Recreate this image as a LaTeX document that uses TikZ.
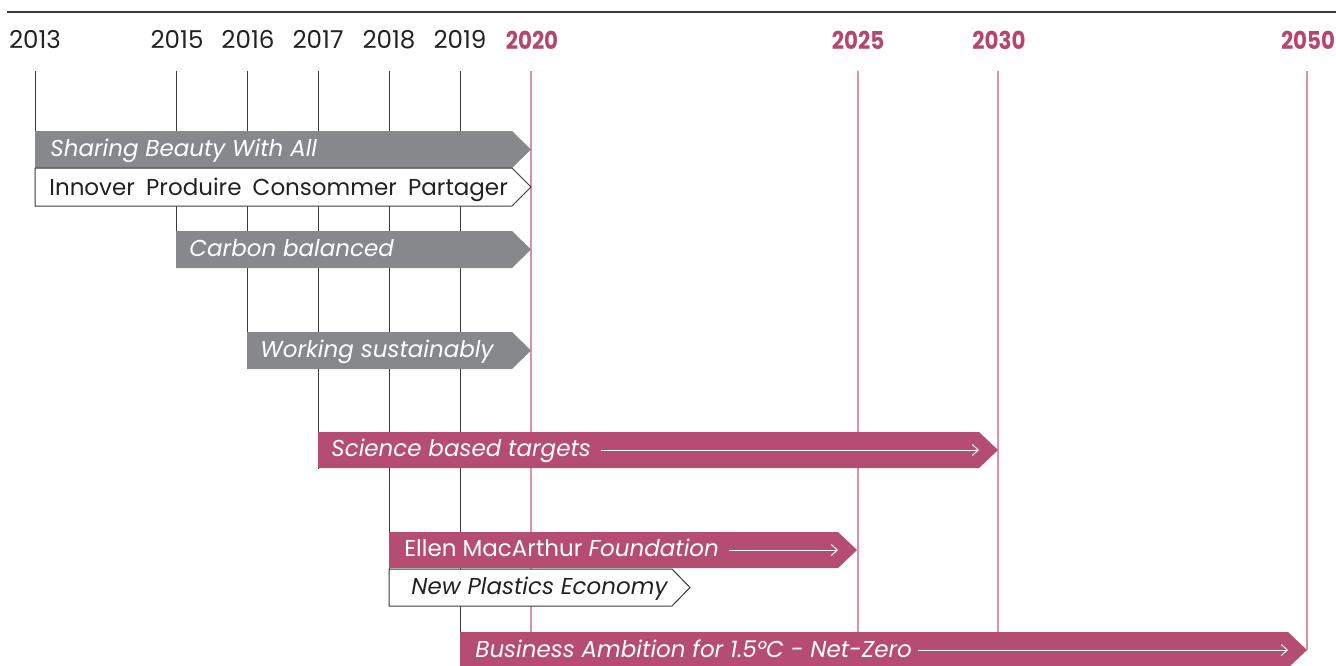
\documentclass[tikz,border=0pt]{standalone}
\usepackage{fontspec}
\setmainfont{Poppins}
\usetikzlibrary{arrows.meta}
\definecolor{bargray}{HTML}{87888C}
\definecolor{barpink}{HTML}{B54D72}
\definecolor{linepink}{HTML}{D891A8}
\definecolor{yearpink}{HTML}{B5466E}
\definecolor{darkline}{HTML}{3A3A3A}
\definecolor{txtdark}{HTML}{222222}
\tikzset{
  rule/.style={draw=darkline,line width=1.4pt},
  tick/.style={draw=darkline,line width=0.5pt},
  ptick/.style={draw=linepink,line width=0.6pt},
  yr/.style={anchor=base,inner sep=0pt,text=txtdark,font=\fontsize{12.3}{14}\selectfont},
  yrb/.style={anchor=base,inner sep=0pt,text=yearpink,font=\fontsize{12.3}{14}\selectfont\bfseries},
  graybar/.style={fill=bargray,draw=none},
  pinkbar/.style={fill=barpink,draw=none},
  whitebar/.style={fill=white,draw=darkline,line width=0.5pt},
  bartxt/.style={anchor=base west,inner sep=0pt,text=white,font=\fontsize{11.5}{13}\selectfont},
  bartxtd/.style={anchor=base west,inner sep=0pt,text=txtdark,font=\fontsize{11.5}{13}\selectfont},
  inarrow/.style={draw=white,line width=0.5pt,-{Straight Barb[length=3pt,width=5.5pt]}}
}
\begin{document}
\begin{tikzpicture}[x=0.5pt,y=-0.5pt]
\useasboundingbox (0,0) rectangle (1336,665);
\clip (0,0) rectangle (1336,665);
% top rule
\coordinate (r0) at (7,12);
\coordinate (r1) at (1336,12);
\draw[rule] (r0) -- (r1);
% year labels
\node[yr] (y13) at (35,48) {2013};
\node[yr] (y15) at (177,48) {2015};
\node[yr] (y16) at (248,48) {2016};
\node[yr] (y17) at (318,48) {2017};
\node[yr] (y18) at (389,48) {2018};
\node[yr] (y19) at (460,48) {2019};
\node[yrb] (y20) at (532,49) {\scalebox{0.87}[1]{2020}};
\node[yrb] (y25) at (858,49) {\scalebox{0.87}[1]{2025}};
\node[yrb] (y30) at (999,49) {\scalebox{0.87}[1]{2030}};
\node[yrb] (y50) at (1308,49) {\scalebox{0.87}[1]{2050}};
% tick lines
\coordinate (t13a) at (35,71);  \coordinate (t13b) at (35,206);
\coordinate (t15a) at (176,71); \coordinate (t15b) at (176,268);
\coordinate (t16a) at (247,71); \coordinate (t16b) at (247,369);
\coordinate (t17a) at (318,71); \coordinate (t17b) at (318,469);
\coordinate (t18a) at (389,71); \coordinate (t18b) at (389,606);
\coordinate (t19a) at (460,71); \coordinate (t19b) at (460,665);
\coordinate (t20a) at (531,71); \coordinate (t20b) at (531,665);
\coordinate (t25a) at (858,71); \coordinate (t25b) at (858,665);
\coordinate (t30a) at (998,71); \coordinate (t30b) at (998,665);
\coordinate (t50a) at (1307,71); \coordinate (t50b) at (1307,650);
\draw[tick] (t13a) -- (t13b);
\draw[tick] (t15a) -- (t15b);
\draw[tick] (t16a) -- (t16b);
\draw[tick] (t17a) -- (t17b);
\draw[tick] (t18a) -- (t18b);
\draw[tick] (t19a) -- (t19b);
\draw[ptick] (t20a) -- (t20b);
\draw[ptick] (t25a) -- (t25b);
\draw[ptick] (t30a) -- (t30b);
\draw[ptick] (t50a) -- (t50b);
% bars
\fill[graybar] (35,131) -- (512,131) -- (531,149.5) -- (512,168) -- (35,168) -- cycle;
\node[bartxt] (sba) at (50,156) {\itshape Sharing Beauty With All};
\draw[whitebar] (35,168) -- (512,168) -- (531,187) -- (512,206) -- (35,206) -- cycle;
\node[bartxtd] (ipc) at (49,195) {Innover\hspace{0.22em} Produire\hspace{0.22em} Consommer\hspace{0.22em} Partager};
\fill[graybar] (176,231) -- (512,231) -- (531,249.5) -- (512,268) -- (176,268) -- cycle;
\node[bartxt] (cb) at (189,256) {\itshape Carbon balanced};
\fill[graybar] (247,332) -- (512,332) -- (531,350.5) -- (512,369) -- (247,369) -- cycle;
\node[bartxt] (ws) at (260,357) {\itshape Working sustainably};
\fill[pinkbar] (318,432) -- (979,432) -- (998,450) -- (979,468) -- (318,468) -- cycle;
\node[bartxt] (sbt) at (331,456.5) {\itshape Science based targets};
\coordinate (sbtE) at (979,450);
\draw[inarrow] ([xshift=5pt]sbt.base east |- sbtE) -- (sbtE);
\fill[pinkbar] (389,532) -- (838,532) -- (857,550) -- (838,568) -- (389,568) -- cycle;
\node[bartxt] (emf) at (404,556.5) {Ellen MacArthur \itshape Foundation};
\coordinate (emfE) at (838,550);
\draw[inarrow] ([xshift=5pt]emf.base east |- emfE) -- (emfE);
\draw[whitebar] (389,569) -- (672,569) -- (690,587.5) -- (672,606) -- (389,606) -- cycle;
\node[bartxtd] (npe) at (411,594) {\itshape New Plastics Economy};
\fill[pinkbar] (460,632) -- (1288,632) -- (1307,650) -- (1288,668) -- (460,668) -- cycle;
\node[bartxt] (bam) at (475,657) {\itshape Business Ambition for 1.5°C - Net-Zero};
\coordinate (bamE) at (1288,650);
\draw[inarrow] ([xshift=3pt]bam.base east |- bamE) -- (bamE);
\end{tikzpicture}
\end{document}
